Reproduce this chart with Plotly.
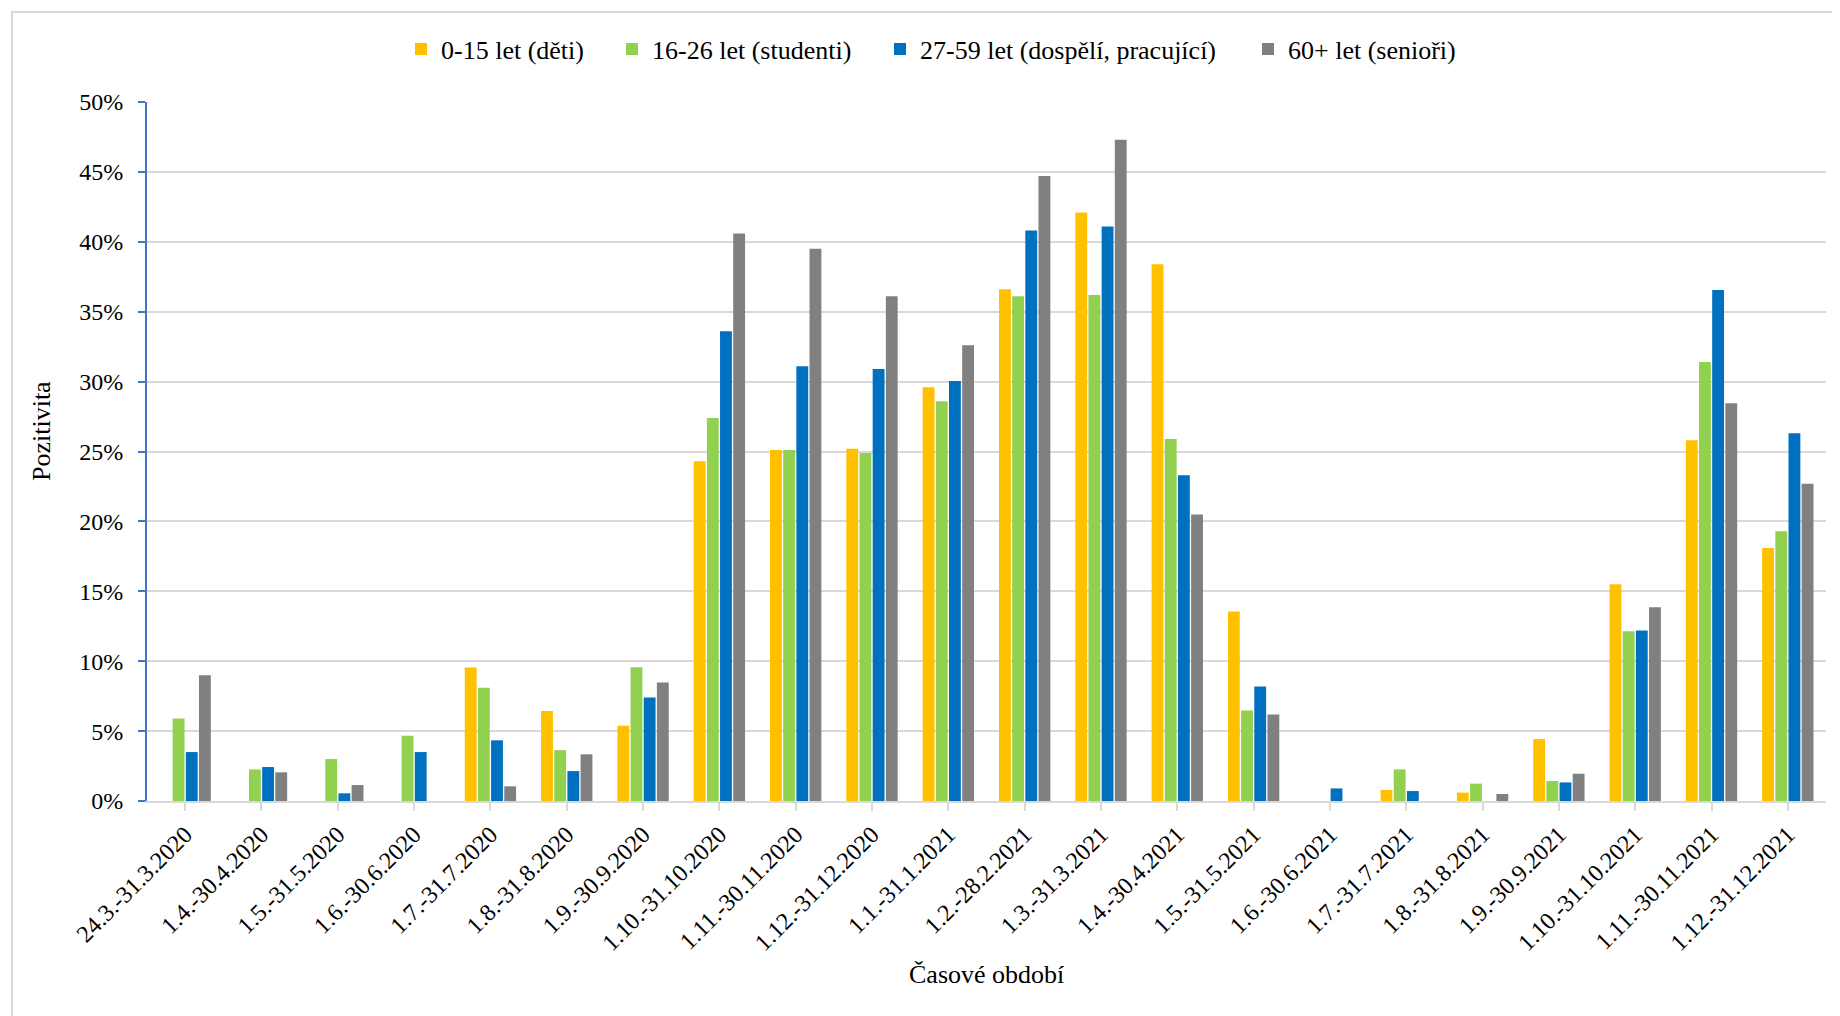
import plotly.graph_objects as go

categories = ["24.3.-31.3.2020", "1.4.-30.4.2020", "1.5.-31.5.2020", "1.6.-30.6.2020",
              "1.7.-31.7.2020", "1.8.-31.8.2020", "1.9.-30.9.2020", "1.10.-31.10.2020",
              "1.11.-30.11.2020", "1.12.-31.12.2020", "1.1.-31.1.2021", "1.2.-28.2.2021",
              "1.3.-31.3.2021", "1.4.-30.4.2021", "1.5.-31.5.2021", "1.6.-30.6.2021",
              "1.7.-31.7.2021", "1.8.-31.8.2021", "1.9.-30.9.2021", "1.10.-31.10.2021",
              "1.11.-30.11.2021", "1.12.-31.12.2021"]

deti = [None, None, None, None, 9.55, 6.43, 5.38, 24.3, 25.1, 25.2, 29.6, 36.6,
        42.1, 38.4, 13.55, None, 0.79, 0.6, 4.43, 15.5, 25.8, 18.1]
studenti = [5.9, 2.26, 3.0, 4.66, 8.1, 3.64, 9.57, 27.4, 25.1, 24.9, 28.6, 36.1,
            36.2, 25.9, 6.48, None, 2.26, 1.24, 1.43, 12.14, 31.4, 19.3]
dospeli = [3.5, 2.43, 0.55, 3.5, 4.34, 2.14, 7.4, 33.6, 31.1, 30.9, 30.05, 40.8,
           41.1, 23.3, 8.19, 0.9, 0.71, None, 1.33, 12.19, 36.55, 26.3]
seniori = [9.0, 2.05, 1.14, None, 1.05, 3.34, 8.48, 40.6, 39.5, 36.1, 32.6, 44.7,
           47.3, 20.5, 6.19, None, None, 0.5, 1.95, 13.86, 28.45, 22.7]

series_names = ["0-15 let (děti)", "16-26 let (studenti)",
                "27-59 let (dospělí, pracující)", "60+ let (senioři)"]
series_values = [deti, studenti, dospeli, seniori]
series_colors = ["#FFC000", "#92D050", "#0070C0", "#808080"]

y_ticks = [0, 5, 10, 15, 20, 25, 30, 35, 40, 45, 50]

FONT = "Liberation Serif, Times New Roman, serif"

# page offset of the plot div (default body margin)
OFF = 8
W, H = 1840, 1016
# target plot area in page pixels
PL, PR, PT, PB = 147, 1826, 102, 801
L = PL - OFF
T = PT - OFF
R = W - (PR - OFF)
B = H - (PB - OFF)
pw = W - L - R
ph = H - T - B


def px_x(p):
    return (p - OFF - L) / pw


def px_y(p):
    return (H - B - (p - OFF)) / ph


# legend symbol centres (page px) in the reference
legend_sym_x = [425, 636, 904, 1272]
legend_keys = ["legend", "legend2", "legend3", "legend4"]

fig = go.Figure()
for name, vals, col, lk in zip(series_names, series_values, series_colors, legend_keys):
    fig.add_trace(go.Bar(x=categories, y=vals, name=name, legend=lk,
                         marker=dict(color=col, line=dict(width=0))))

legend_layouts = {}
for lk, sx in zip(legend_keys, legend_sym_x):
    legend_layouts[lk] = dict(orientation="h", x=px_x(sx - 24), y=px_y(49),
                              xanchor="left", yanchor="middle",
                              bgcolor="rgba(0,0,0,0)",
                              font=dict(family=FONT, size=26, color="black"))

fig.update_layout(
    width=W, height=H,
    margin=dict(l=L, r=R, t=T, b=B, autoexpand=False),
    paper_bgcolor="white", plot_bgcolor="white",
    font=dict(family=FONT, color="black", size=24),
    barmode="group", bargap=0.31, bargroupgap=0.1,
    showlegend=True,
    xaxis=dict(type="category", tickangle=-45, showgrid=False,
               showline=True, linecolor="#D9D9D9", linewidth=2,
               ticks="outside", tickcolor="#D9D9D9", ticklen=8, tickwidth=2,
               tickfont=dict(family=FONT, size=24, color="black")),
    yaxis=dict(range=[0, 50], tickvals=y_ticks, ticktext=[f"{v}%" for v in y_ticks],
               showgrid=True, gridcolor="#D9D9D9", gridwidth=2,
               showline=True, linecolor="#4472C4", linewidth=2,
               ticks="outside", tickcolor="#4472C4", ticklen=7, tickwidth=2,
               ticklabelstandoff=10,
               zeroline=False,
               tickfont=dict(family=FONT, size=24, color="black")),
    shapes=[dict(type="rect", xref="paper", yref="paper",
                 x0=px_x(12), x1=px_x(1834), y0=px_y(1030), y1=px_y(12),
                 line=dict(color="#D9D9D9", width=2), fillcolor="rgba(0,0,0,0)",
                 layer="below")],
    annotations=[
        dict(text="Pozitivita", xref="paper", yref="paper", x=px_x(41), y=px_y(431),
             showarrow=False, textangle=-90, xanchor="center", yanchor="middle",
             font=dict(family=FONT, size=26, color="black")),
        dict(text="Časové období", xref="paper", yref="paper", x=px_x(986), y=px_y(974),
             showarrow=False, xanchor="center", yanchor="middle",
             font=dict(family=FONT, size=26, color="black")),
    ],
    **legend_layouts,
)

fig.write_html("out.html")
